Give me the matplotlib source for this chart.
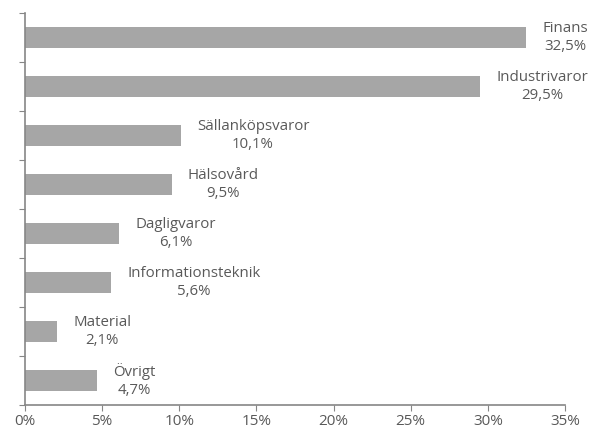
import matplotlib
matplotlib.use("Agg")
import matplotlib.pyplot as plt
import numpy as np

# sector weights, top to bottom
sectors = ["Finans", "Industrivaror", "Sällanköpsvaror", "Hälsovård",
           "Dagligvaror", "Informationsteknik", "Material", "Övrigt"]
weights = [32.5, 29.5, 10.1, 9.5, 6.1, 5.6, 2.1, 4.7]
xticks = [0, 5, 10, 15, 20, 25, 30, 35]

plt.rcParams['font.family'] = ['Open Sans', 'DejaVu Sans']
textcol = "#595959"
axcol = "#868686"

fig = plt.figure(figsize=(5.89, 4.32), dpi=100)
ax = fig.add_axes([0.0424, 0.0625, 0.9169, 0.9074])

ypos = np.arange(len(sectors))
ax.barh(ypos, weights, height=0.41, color="#A6A6A6")
ax.set_ylim(len(sectors) - 0.5, -0.5)
ax.set_xlim(0, 35)

for y, name, w in zip(ypos, sectors, weights):
    lbl = name + "\n" + ("%.1f%%" % w).replace(".", ",")
    ax.annotate(lbl, xy=(w, y), xytext=(11.5, 0), textcoords="offset points",
                ha="left", va="center", multialignment="center",
                fontsize=10.8, color=textcol, linespacing=1.2)

ax.set_xticks(xticks)
ax.set_xticklabels(["%d%%" % t for t in xticks], fontsize=11, color=textcol)
ax.set_yticks(np.arange(len(sectors) + 1) - 0.5)
ax.set_yticklabels([])
ax.tick_params(axis="x", length=4, color=axcol, pad=2.5)
ax.tick_params(axis="y", length=4, color=axcol)
for s in ["top", "right"]:
    ax.spines[s].set_visible(False)
for s in ["left", "bottom"]:
    ax.spines[s].set_color(axcol)
    ax.spines[s].set_linewidth(1.2)

fig.savefig("out.png", dpi=100)
